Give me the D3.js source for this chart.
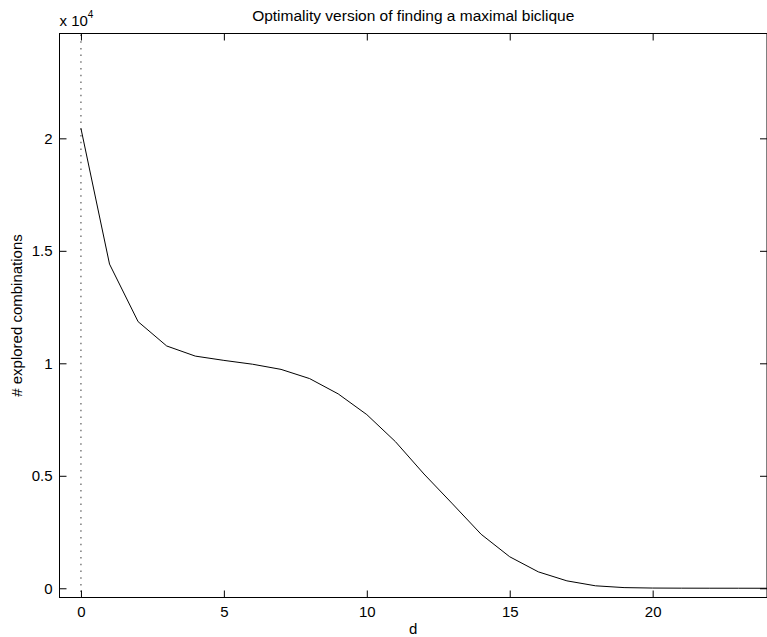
<!DOCTYPE html>
<html><head><meta charset="utf-8">
<script src="https://cdn.jsdelivr.net/npm/d3@7"></script>
<style>body{margin:0;background:#fff}svg{display:block}text{font-family:"Liberation Sans",Arial,sans-serif;fill:#000}</style>
</head><body>
<svg id="c" width="767" height="637"></svg>
<script>
const dValues = [0,1,2,3,4,5,6,7,8,9,10,11,12,13,14,15,16,17,18,19,20,21,22,23,24];
const combos = [20440,14410,11850,10770,10320,10130,9960,9730,9320,8640,7720,6520,5080,3750,2400,1400,730,330,110,30,10,5,3,2,1];
const xTicks = [0,5,10,15,20];
const yTicks = [0,5000,10000,15000,20000];
const yTickLabels = ["0","0.5","1","1.5","2"];
const title = "Optimality version of finding a maximal biclique";
const xLabel = "d";
const yLabel = "# explored combinations";

const svg = d3.select("#c");
const L = 59.5, R = 767, T = 33.5, B = 597.5;
const x = d3.scaleLinear().domain([-0.75, 24]).range([L, R]);
const y = d3.scaleLinear().domain([-410, 24660]).range([B, T]);
const tk = 7;
const fs = 15;

svg.append("rect").attr("x", L).attr("y", T).attr("width", R - L).attr("height", B - T)
  .attr("fill", "none").attr("stroke", "#000").attr("stroke-width", 1);

svg.append("line").attr("x1", x(0)).attr("x2", x(0)).attr("y1", T + 1).attr("y2", B)
  .attr("stroke", "#666").attr("stroke-width", 1.3).attr("stroke-dasharray", "1.5,5.2");

const bx = svg.append("g").attr("transform", `translate(0,${B})`)
  .call(d3.axisBottom(x).tickValues(xTicks).tickSize(-tk).tickPadding(9).tickFormat(d3.format("d")));
bx.select(".domain").remove();
bx.selectAll("text").attr("font-size", fs).attr("font-family", null);
const tx = svg.append("g").attr("transform", `translate(0,${T})`)
  .call(d3.axisTop(x).tickValues(xTicks).tickSize(-tk).tickFormat(""));
tx.select(".domain").remove();
const ly = svg.append("g").attr("transform", `translate(${L},0)`)
  .call(d3.axisLeft(y).tickValues(yTicks).tickSize(-tk).tickPadding(7).tickFormat((d, i) => yTickLabels[i]));
ly.select(".domain").remove();
ly.selectAll("text").attr("font-size", fs).attr("font-family", null);
const ry = svg.append("g").attr("transform", `translate(${R},0)`)
  .call(d3.axisRight(y).tickValues(yTicks).tickSize(-tk).tickFormat(""));
ry.select(".domain").remove();
svg.selectAll(".tick line").attr("stroke", "#000");

const line = d3.line().x((d, i) => x(dValues[i])).y(d => y(d));
svg.append("path").datum(combos).attr("d", line).attr("fill", "none")
  .attr("stroke", "#000").attr("stroke-width", 1);

const ex = svg.append("text").attr("x", L).attr("y", 26).attr("font-size", fs);
ex.append("tspan").text("x 10");
ex.append("tspan").attr("dy", -8).attr("font-size", 10).text("4");

svg.append("text").attr("x", (L + R) / 2).attr("y", 21).attr("text-anchor", "middle")
  .attr("font-size", 15.5).text(title);
svg.append("text").attr("x", (L + R) / 2).attr("y", 634).attr("text-anchor", "middle")
  .attr("font-size", fs).text(xLabel);
svg.append("text").attr("transform", `translate(22,${(T + B) / 2}) rotate(-90)`)
  .attr("text-anchor", "middle").attr("font-size", fs).text(yLabel);
</script>
</body></html>
